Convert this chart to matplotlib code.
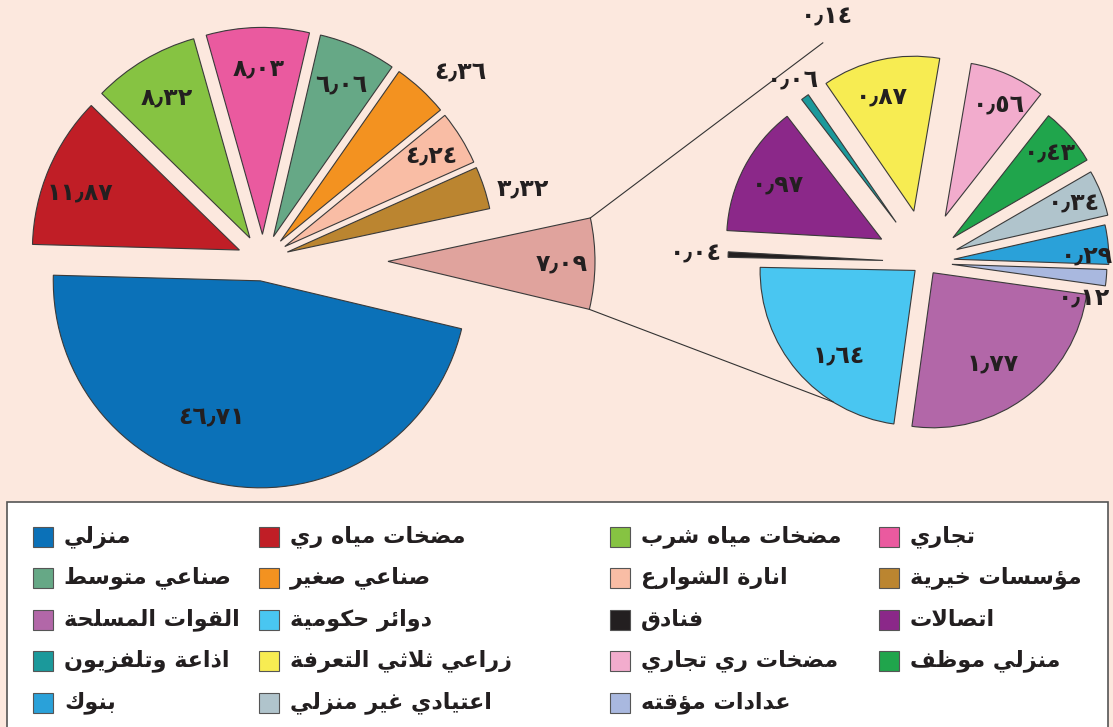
import math
import numpy as np
import matplotlib
matplotlib.use("Agg")
import matplotlib.pyplot as plt
from matplotlib.patches import Rectangle

# main pie (percent of consumption)
main_names = ["منزلي", "مضخات مياه ري", "مضخات مياه شرب", "تجاري",
              "صناعي متوسط", "صناعي صغير", "انارة الشوارع", "مؤسسات خيرية"]
main_values = [46.71, 11.87, 8.32, 8.03, 6.06, 4.36, 4.24, 3.32]
main_colors = ["#0B71B8", "#C01E26", "#86C342", "#EA5A9F",
               "#66A886", "#F39220", "#F9BDA5", "#BB8530"]
other_value = 7.09
other_color = "#E0A39D"

# breakdown of the "other" slice
sub_names = ["القوات المسلحة", "دوائر حكومية", "فنادق", "اتصالات",
             "اذاعة وتلفزيون", "زراعي ثلاثي التعرفة", "مضخات ري تجاري", "منزلي موظف",
             "بنوك", "اعتيادي غير منزلي", "عدادات مؤقته"]
sub_values = [1.77, 1.64, 0.04, 0.97, 0.06, 0.87, 0.56, 0.43, 0.29, 0.34, 0.12]
sub_colors = ["#B267A8", "#49C6F1", "#231F20", "#8B2889",
              "#1B999B", "#F7EC52", "#F2ACCD", "#20A54C",
              "#2AA1D9", "#B0C4CC", "#A9B8DF"]
sub_order = [0, 1, 2, 3, 4, 5, 6, 7, 9, 8, 10]  # clockwise drawing order
stray_value = 0.14

# ---- simple arabic shaping (matplotlib has no shaping engine) ----
FORMS = {'ء': (0xFE80, 0), 'آ': (0xFE81, 2), 'أ': (0xFE83, 2), 'ؤ': (0xFE85, 2),
         'إ': (0xFE87, 2), 'ئ': (0xFE89, 4), 'ا': (0xFE8D, 2), 'ب': (0xFE8F, 4),
         'ة': (0xFE93, 2), 'ت': (0xFE95, 4), 'ث': (0xFE99, 4), 'ج': (0xFE9D, 4),
         'ح': (0xFEA1, 4), 'خ': (0xFEA5, 4), 'د': (0xFEA9, 2), 'ذ': (0xFEAB, 2),
         'ر': (0xFEAD, 2), 'ز': (0xFEAF, 2), 'س': (0xFEB1, 4), 'ش': (0xFEB5, 4),
         'ص': (0xFEB9, 4), 'ض': (0xFEBD, 4), 'ط': (0xFEC1, 4), 'ظ': (0xFEC5, 4),
         'ع': (0xFEC9, 4), 'غ': (0xFECD, 4), 'ف': (0xFED1, 4), 'ق': (0xFED5, 4),
         'ك': (0xFED9, 4), 'ل': (0xFEDD, 4), 'م': (0xFEE1, 4), 'ن': (0xFEE5, 4),
         'ه': (0xFEE9, 4), 'و': (0xFEED, 2), 'ى': (0xFEEF, 2), 'ي': (0xFEF1, 4)}
LAM_ALEF = {'ا': 0xFEFB, 'أ': 0xFEF7, 'إ': 0xFEF9, 'آ': 0xFEF5}


def joins_next(c):
    return c in FORMS and FORMS[c][1] == 4


def joins_prev(c):
    return c in FORMS and FORMS[c][1] > 0


def shape(text):
    out = []
    i = 0
    while i < len(text):
        c = text[i]
        prev = text[i - 1] if i > 0 else ''
        nxt = text[i + 1] if i + 1 < len(text) else ''
        if c == 'ل' and nxt in LAM_ALEF:
            out.append(chr(LAM_ALEF[nxt] + (1 if joins_next(prev) else 0)))
            i += 2
            continue
        if c not in FORMS:
            out.append(c)
            i += 1
            continue
        base, kind = FORMS[c]
        p = joins_next(prev)
        q = kind == 4 and joins_prev(nxt)
        if kind == 0:
            code = base
        elif kind == 2:
            code = base + 1 if p else base
        else:
            code = base + (3 if p and q else 1 if p else 2 if q else 0)
        out.append(chr(code))
        i += 1
    return ''.join(reversed(out))


DIGITS = str.maketrans('0123456789.', '٠١٢٣٤٥٦٧٨٩٫')


def num(v):
    return f"{v:.2f}".translate(DIGITS)


W, H = 1113, 727
BG = "#FCE8DE"
plt.rcParams['font.family'] = ['DejaVu Sans']

fig = plt.figure(figsize=(W / 100, H / 100), dpi=100, facecolor=BG)
ax = fig.add_axes([0, 0, 1, 1])
ax.set_facecolor(BG)

edge = dict(edgecolor="#3a3a3a", linewidth=0.8)

# main pie
m_vals = main_values + [other_value]
m_cols = main_colors + [other_color]
m_center = (263, H - 260)
m_r = 207
m_explode = [21, 25.6, 25.6, 25.6, 25.6, 25.6, 25.6, 25.6, 125]
m_wedges, _ = ax.pie(m_vals, colors=m_cols, startangle=-13.4, counterclock=False,
                     radius=m_r, center=m_center, explode=m_explode,
                     wedgeprops=edge, frame=True)
m_labdist = [0.70, 0.82, 0.79, 0.80, 0.80, 1.19, 0.83, 1.18, 0.84]
m_labshift = [-12, 3, 0, 0, 0, -4, 0, -3, 0]

# secondary pie
s_vals = [sub_values[k] for k in sub_order]
s_cols = [sub_colors[k] for k in sub_order]
s_center = (925, H - 262)
s_r = 155
s_explode = [13.5, 13, 42, 49, 49, 52, 50, 37, 34, 29, 27]
s_wedges, _ = ax.pie(s_vals, colors=s_cols, startangle=-8, counterclock=False,
                     radius=s_r, center=s_center, explode=s_explode,
                     wedgeprops=edge, frame=True)
s_labdist = [0.70, 0.74, 1.21, 0.76, 1.13, 0.77, 0.80, 0.83, 0.81, 0.86, 0.88]
s_labshift = [-4, 8, 0, 0, 0, 3, -2, 0, 0, -4, -9]


def put_labels(wedges, vals, dists, shifts):
    for w, v, d, s in zip(wedges, vals, dists, shifts):
        mid = math.radians((w.theta1 + w.theta2) / 2 + s)
        x = w.center[0] + d * w.r * math.cos(mid)
        y = w.center[1] + d * w.r * math.sin(mid)
        ax.text(x, y, num(v), ha='center', va='center', fontsize=17,
                fontweight='bold', color="#231F20")


put_labels(m_wedges, m_vals, m_labdist, m_labshift)
put_labels(s_wedges, s_vals, s_labdist, s_labshift)

# connector lines from the "other" slice
ow = m_wedges[-1]
top = (ow.center[0] + ow.r * math.cos(math.radians(ow.theta2)),
       ow.center[1] + ow.r * math.sin(math.radians(ow.theta2)))
bot = (ow.center[0] + ow.r * math.cos(math.radians(ow.theta1)),
       ow.center[1] + ow.r * math.sin(math.radians(ow.theta1)))
sky = s_wedges[1]
bot_end = (sky.center[0] + sky.r * math.cos(math.radians(-122)),
           sky.center[1] + sky.r * math.sin(math.radians(-122)))
top_end = (s_center[0] + 1.56 * s_r * math.cos(math.radians(115)),
           s_center[1] + 1.56 * s_r * math.sin(math.radians(115)))
ax.plot([top[0], top_end[0]], [top[1], top_end[1]], color="#333333", lw=0.8)
ax.plot([bot[0], bot_end[0]], [bot[1], bot_end[1]], color="#333333", lw=0.8)
ax.text(top_end[0] + 4, top_end[1] + 26, num(stray_value), ha='center', va='center',
        fontsize=17, fontweight='bold', color="#231F20")

# legend box
ax.add_patch(Rectangle((7, -20), 1101, H - 502 + 20, facecolor="white",
                       edgecolor="#555555", lw=1.2, zorder=3))
names = main_names + sub_names
colors = main_colors + sub_colors
col_x = [33, 259, 610, 879]
row_y = [537, 578, 620, 661, 703]
for k, (n, c) in enumerate(zip(names, colors)):
    x = col_x[k % 4]
    y = H - row_y[k // 4]
    ax.add_patch(Rectangle((x, y - 10), 20, 20, facecolor=c, edgecolor="#555555",
                           lw=0.8, zorder=4))
    ax.text(x + 31, y, shape(n), ha='left', va='center', fontsize=16,
            fontweight='bold', color="#231F20", zorder=5)

ax.set_xlim(0, W)
ax.set_ylim(0, H)
ax.set_aspect('auto')
ax.axis('off')
fig.savefig("out.png", dpi=100, facecolor=BG)
